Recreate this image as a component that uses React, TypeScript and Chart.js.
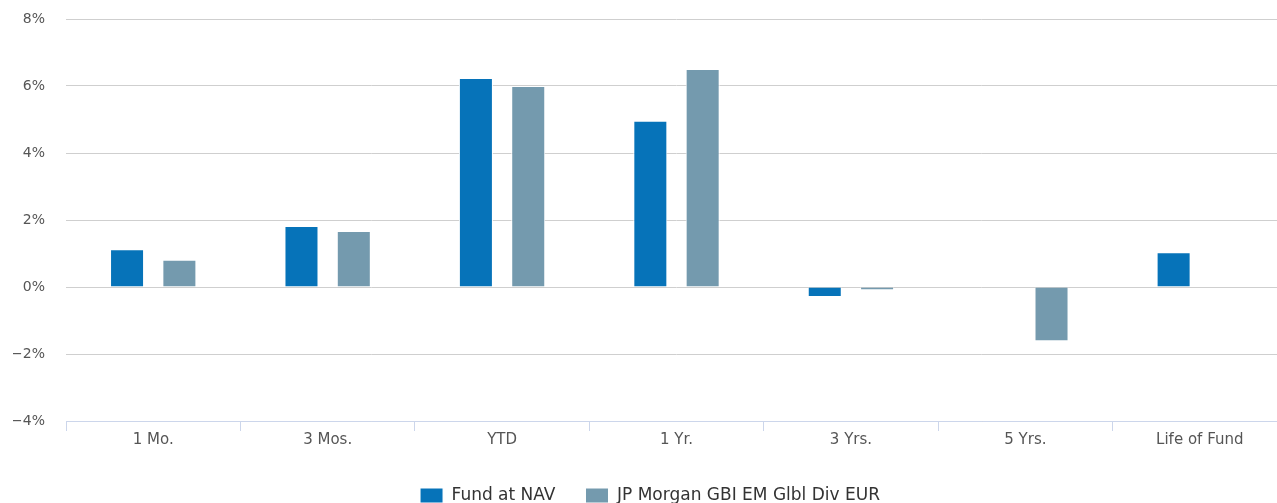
import React, { useEffect, useRef } from "react";
import { Chart, registerables } from "chart.js";

Chart.register(...registerables);

const categories = ["1 Mo.", "3 Mos.", "YTD", "1 Yr.", "3 Yrs.", "5 Yrs.", "Life of Fund"];
const fundValues: (number | null)[] = [1.13, 1.82, 6.24, 4.96, -0.3, null, 1.04];
const benchmarkValues: (number | null)[] = [0.81, 1.67, 6.0, 6.51, -0.1, -1.62, null];
const seriesNames = ["Fund at NAV", "JP Morgan GBI EM Glbl Div EUR"];
const yMin = -4;
const yMax = 8;
const yStep = 2;

const FONT = "'DejaVu Sans', sans-serif";

export default function App() {
  const ref = useRef<HTMLCanvasElement | null>(null);

  useEffect(() => {
    if (!ref.current) return;
    const chart = new Chart(ref.current, {
      type: "bar",
      data: {
        labels: categories,
        datasets: [
          {
            label: seriesNames[0],
            data: fundValues,
            backgroundColor: "#0673b9",
            borderColor: "#ffffff",
            borderWidth: 1,
            categoryPercentage: 0.6,
            barPercentage: 0.65,
          },
          {
            label: seriesNames[1],
            data: benchmarkValues,
            backgroundColor: "#749aae",
            borderColor: "#ffffff",
            borderWidth: 1,
            categoryPercentage: 0.6,
            barPercentage: 0.65,
          },
        ],
      },
      options: {
        animation: false,
        responsive: true,
        maintainAspectRatio: false,
        layout: { padding: { top: 19, right: 3, left: 13, bottom: 0 } },
        plugins: {
          tooltip: { enabled: false },
          legend: {
            position: "bottom",
            labels: {
              boxWidth: 23,
              boxHeight: 15,
              padding: 30,
              color: "#333333",
              font: { family: FONT, size: 17 },
            },
          },
        },
        scales: {
          x: {
            grid: {
              drawOnChartArea: false,
              drawTicks: true,
              tickLength: 10,
              color: "#ccd6eb",
              offset: true,
            },
            border: { display: true, color: "#ccd6eb", width: 1 },
            ticks: {
              color: "#555555",
              padding: 0,
              maxRotation: 0,
              font: { family: FONT, size: 15 },
            },
            afterFit: (s: any) => {
              s.height = 36;
            },
          },
          y: {
            min: yMin,
            max: yMax,
            grid: {
              color: "#cfcfcf",
              drawTicks: true,
              tickLength: 21,
              tickColor: "rgba(0,0,0,0)",
            },
            border: { display: false },
            ticks: {
              stepSize: yStep,
              color: "#555555",
              padding: 0,
              font: { family: FONT, size: 14 },
              callback: (v: any) => (v < 0 ? "\u2212" + Math.abs(v) + "%" : v + "%"),
            },
            afterFit: (s: any) => {
              s.width = 53;
            },
          },
        },
      },
    });
    return () => chart.destroy();
  }, []);

  return (
    <div
      style={{
        position: "fixed",
        left: 0,
        top: 0,
        width: 1277,
        height: 503,
        overflow: "hidden",
        background: "#ffffff",
      }}
    >
      <div style={{ position: "absolute", left: 0, top: 0, width: 1290, height: 514 }}>
        <canvas ref={ref} />
      </div>
    </div>
  );
}
